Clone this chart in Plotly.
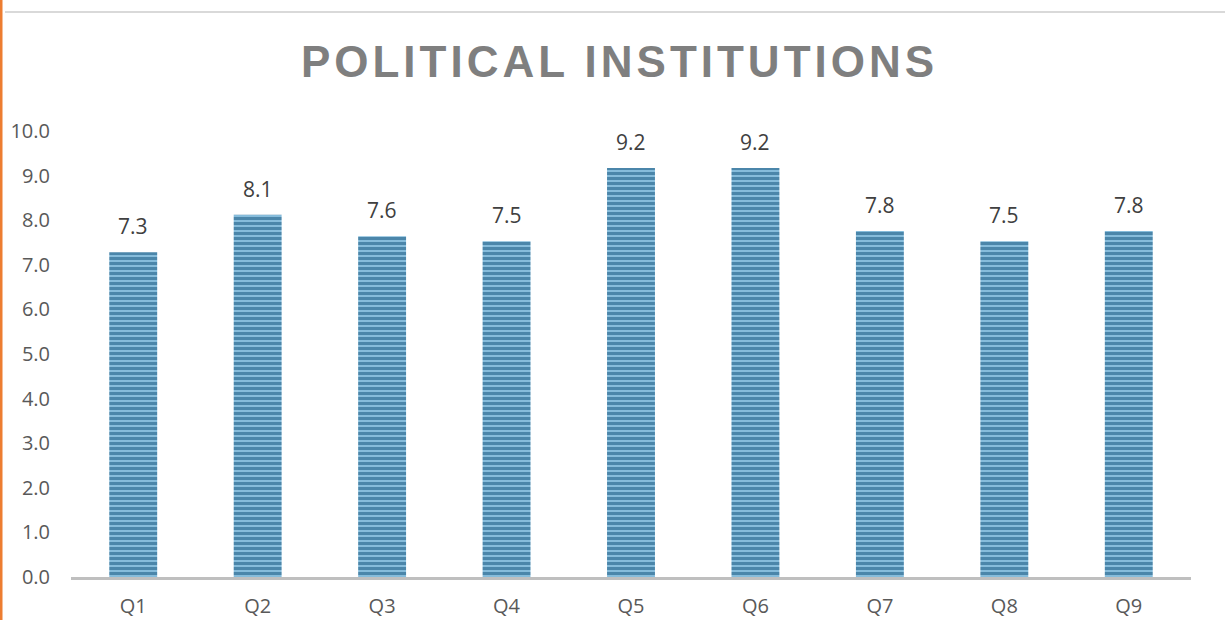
import plotly.graph_objects as go

# dados
categorias = ['Q1', 'Q2', 'Q3', 'Q4', 'Q5', 'Q6', 'Q7', 'Q8', 'Q9']
notas = [7.28, 8.12, 7.64, 7.53, 9.17, 9.17, 7.76, 7.53, 7.76]
ticks_y = [0, 1, 2, 3, 4, 5, 6, 7, 8, 9, 10]

cor_barra = '#105079'
cor_fundo_barra = '#86bcdb'
cor_titulo = '#7f7f7f'
cor_texto = '#595959'

W, H = 1225, 620
ml, mr, mt, mb = 71, 34, 131, 43
pw = W - ml - mr
ph = H - mt - mb

fig = go.Figure()
fig.add_trace(go.Bar(
    x=categorias, y=notas,
    width=0.385,
    marker=dict(
        color=cor_fundo_barra,
        line=dict(width=0),
        pattern=dict(shape='-', fgcolor=cor_barra, bgcolor=cor_fundo_barra,
                     size=5, solidity=0.6, fillmode='overlay'),
    ),
    hoverinfo='x+y',
))

# rótulos de valor acima das barras
for c, v in zip(categorias, notas):
    fig.add_annotation(x=c, y=v, text=f'{v:.1f}', showarrow=False,
                       yanchor='bottom', yshift=10,
                       font=dict(family='Open Sans', size=21, color='#404040'))

fig.update_layout(
    width=W, height=H,
    margin=dict(l=ml, r=mr, t=mt, b=mb),
    plot_bgcolor='white', paper_bgcolor='white',
    showlegend=False,
    title=dict(text='<b>POLITICAL INSTITUTIONS</b>', x=0.5 + 7 / W, xanchor='center',
               y=1 - 62 / H, yanchor='middle', automargin=False,
               font=dict(family='Liberation Sans', size=44, color=cor_titulo)),
    xaxis=dict(showgrid=False, showline=True, linecolor='#bfbfbf', linewidth=3,
               ticks='', tickfont=dict(family='Open Sans', size=20, color=cor_texto),
               ticklabelstandoff=9, automargin=False),
    yaxis=dict(range=[0, 10], tickvals=ticks_y, tickformat='.1f', showgrid=False,
               zeroline=False, showline=False, ticks='',
               tickfont=dict(family='Open Sans', size=20, color=cor_texto),
               ticklabelstandoff=20, automargin=False),
)

# linha laranja à esquerda e linha cinza no topo
fig.add_shape(type='line', xref='paper', yref='paper',
              x0=-(ml - 1) / pw, x1=-(ml - 1) / pw, y0=-mb / ph, y1=1 + mt / ph,
              line=dict(color='#ed7d31', width=3))
fig.add_shape(type='line', xref='paper', yref='paper',
              x0=-(ml - 5) / pw, x1=1 + mr / pw, y0=1 + (mt - 12) / ph, y1=1 + (mt - 12) / ph,
              line=dict(color='#d9d9d9', width=2))

# espaçamento entre letras do título (o plotly não tem essa opção)
js = """
document.body.style.margin='0';
var gd = document.getElementById('{plot_id}');
function espacar(){
  var t = gd.querySelector('.gtitle');
  if (t) { t.style.letterSpacing = '4px'; }
}
espacar();
gd.on('plotly_afterplot', espacar);
"""

fig.write_html('out.html', post_script=js, config={'displayModeBar': False})
